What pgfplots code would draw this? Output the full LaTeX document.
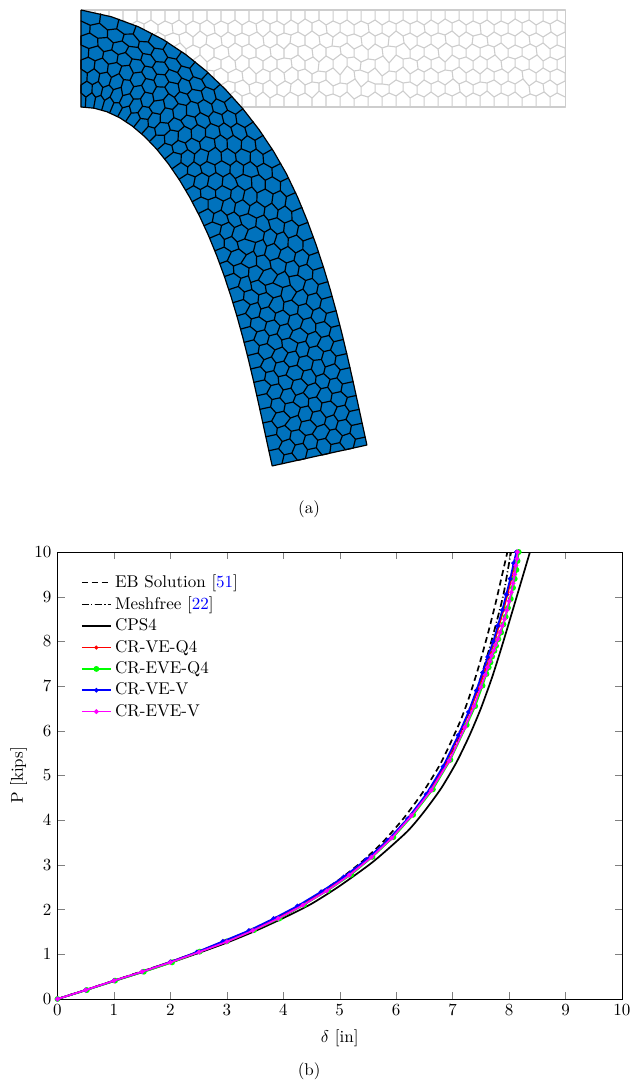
\documentclass[border=0pt]{standalone}
\usepackage{pgfplots}
\usepackage{pgfplotstable}
\pgfplotsset{compat=1.18}
\definecolor{meshblue}{HTML}{0072BD}
\definecolor{meshgray}{HTML}{CDCDCD}
\definecolor{pred}{HTML}{FF0000}
\definecolor{pgreen}{HTML}{00FF00}
\definecolor{pblue}{HTML}{0000FF}
\definecolor{pmag}{HTML}{FF00FF}
\tikzset{declare function={
 bxc(\s)=81+\s*(501+\s*(-337.7+\s*(18.4+\s*56.8)));
 byc(\s)=58.5+\s*\s*(1026.7+\s*(-954.4+\s*324.7));
 bdx(\s)=501+\s*(-675.4+\s*(55.2+\s*227.2));
 bdy(\s)=\s*(2053.4+\s*(-2863.2+\s*1298.8));
 bsp(\s)=sqrt(bdx(\s)*bdx(\s)+bdy(\s)*bdy(\s));
 boff(\s,\d)=\d+max(0,-\d)*8.66*\s*max(0,0.5-\s)*max(0,0.5-\s);
 bendx(\a,\b)=bxc((\a-81)/484)-boff((\a-81)/484,\b-58.5)*bdy((\a-81)/484)/bsp((\a-81)/484);
 bendy(\a,\b)=byc((\a-81)/484)+boff((\a-81)/484,\b-58.5)*bdx((\a-81)/484)/bsp((\a-81)/484);
}}
% outline of the beam, pixel positions of the straight beam
\pgfplotstableread[header=false]{
81 10
103 10
125 10
147 10
169 10
191 10
213 10
235 10
257 10
279 10
301 10
323 10
345 10
367 10
389 10
411 10
433 10
455 10
477 10
499 10
521 10
543 10
565 10
565 107
543 107
521 107
499 107
477 107
455 107
433 107
411 107
389 107
367 107
345 107
323 107
301 107
279 107
257 107
235 107
213 107
191 107
169 107
147 107
125 107
103 107
81 107
81 10
}\outline
% cell walls of the mesh, pixel positions on the straight beam
\pgfplotstableread[header=false]{
81 21
88 24
88 32
88 24
95 20
95 10
95 20
102 25
103 33
102 25
109 21
109 10
109 21
116 24
116 32
116 24
123 20
123 10
123 20
130 25
131 32
130 25
137 21
137 10
137 21
144 24
144 33
144 24
151 20
151 10
151 20
158 25
158 32
158 25
165 21
165 10
165 21
172 24
173 33
172 24
179 20
179 10
179 20
186 25
186 32
186 25
193 21
193 10
193 21
200 24
200 31
200 24
207 20
207 10
207 20
214 25
215 33
214 25
221 21
221 10
221 21
228 24
228 32
228 24
235 20
235 10
235 20
242 25
242 33
242 25
249 21
249 10
249 21
256 24
257 32
256 24
263 20
263 10
263 20
270 24
270 31
270 24
277 21
277 10
277 21
284 25
284 33
284 25
291 20
291 10
291 20
298 24
298 32
298 24
305 19
305 10
305 19
312 23
312 31
312 23
319 20
319 10
319 20
326 25
327 33
326 25
333 21
333 10
333 21
340 24
340 32
340 24
347 20
347 10
347 20
354 25
354 34
354 25
361 21
361 10
361 21
368 24
369 32
368 24
375 20
375 10
375 20
382 25
382 33
382 25
389 21
389 10
389 21
396 24
396 31
396 24
403 20
403 10
403 20
410 24
410 33
410 24
417 21
417 10
417 21
424 25
425 32
424 25
431 20
431 10
431 20
438 24
438 33
438 24
445 19
445 10
445 19
452 23
452 31
452 23
459 20
459 10
459 20
466 25
466 32
466 25
473 21
473 10
473 21
480 24
481 34
480 24
487 20
487 10
487 20
494 25
494 32
494 25
501 21
501 10
501 21
508 24
508 33
508 24
515 19
515 10
515 19
522 23
522 31
522 23
529 20
529 10
529 20
536 25
536 33
536 25
543 21
543 10
543 21
550 24
551 32
550 24
557 20
557 10
557 20
565 24
565 32
557 36
557 45
557 36
551 32
543 37
543 43
543 37
536 33
529 36
530 44
529 36
522 31
515 36
515 45
515 36
508 33
501 36
501 43
501 36
494 32
487 37
488 45
487 37
481 34
473 36
472 44
473 36
466 32
459 37
459 45
459 37
452 31
445 35
446 43
445 35
438 33
431 36
431 44
431 36
425 32
417 37
417 45
417 37
410 33
403 36
404 43
403 36
396 31
389 37
388 46
389 37
382 33
375 36
375 44
375 36
369 32
361 37
362 45
361 37
354 34
347 36
347 43
347 36
340 32
333 37
332 46
333 37
327 33
319 36
320 44
319 36
312 31
305 36
305 45
305 36
298 32
291 35
290 43
291 35
284 33
277 36
277 44
277 36
270 31
263 37
264 45
263 37
257 32
249 36
249 44
249 36
242 33
235 36
235 43
235 36
228 32
221 37
222 45
221 37
215 33
207 36
206 44
207 36
200 31
193 37
193 45
193 37
186 32
179 35
180 43
179 35
173 33
165 36
165 44
165 36
158 32
151 37
151 45
151 37
144 33
137 36
138 44
137 36
131 32
123 35
122 43
123 35
116 32
109 37
109 45
109 37
103 33
95 36
96 44
95 36
88 32
81 36
81 45
88 48
88 57
88 48
96 44
102 49
102 56
102 49
109 45
116 48
117 57
116 48
122 43
130 47
130 55
130 47
138 44
144 48
144 56
144 48
151 45
158 49
159 57
158 49
165 44
172 48
172 56
172 48
180 43
186 49
186 58
186 49
193 45
200 48
200 55
200 48
206 44
214 49
214 57
214 49
222 45
228 48
229 56
228 48
235 43
242 47
242 55
242 47
249 44
256 49
256 57
256 49
264 45
270 48
271 56
270 48
277 44
284 49
284 58
284 49
290 43
298 47
298 55
298 47
305 45
312 49
313 57
312 49
320 44
326 48
326 56
326 48
332 46
340 47
341 54
340 47
347 43
354 49
354 57
354 49
362 45
368 50
368 59
368 50
375 44
382 48
383 56
382 48
388 46
396 47
396 55
396 47
404 43
410 50
410 58
410 50
417 45
424 48
424 56
424 48
431 44
438 49
439 57
438 49
446 43
452 47
452 55
452 47
459 45
466 49
466 57
466 49
472 44
480 48
480 56
480 48
488 45
494 47
495 55
494 47
501 43
508 49
508 57
508 49
515 45
522 48
522 56
522 48
530 44
536 47
537 55
536 47
543 43
550 49
550 57
550 49
557 45
565 48
565 56
557 60
557 69
557 60
550 57
543 61
543 68
543 61
537 55
529 60
529 69
529 60
522 56
515 59
515 67
515 59
508 57
501 61
502 69
501 61
495 55
487 60
487 68
487 60
480 56
473 61
473 69
473 61
466 57
459 59
459 67
459 59
452 55
445 62
445 70
445 62
439 57
431 60
431 68
431 60
424 56
417 61
418 69
417 61
410 58
403 59
403 67
403 59
396 55
389 63
389 71
389 63
383 56
375 60
375 68
375 60
368 59
361 62
360 70
361 62
354 57
347 58
347 66
347 58
341 54
333 60
333 68
333 60
326 56
319 62
318 71
319 62
313 57
305 61
305 69
305 61
298 55
291 59
292 67
291 59
284 58
277 60
277 68
277 60
271 56
263 61
263 69
263 61
256 57
249 59
249 67
249 59
242 55
235 61
236 69
235 61
229 56
221 60
221 68
221 60
214 57
207 62
207 70
207 62
200 55
193 60
193 68
193 60
186 58
179 59
179 67
179 59
172 56
165 61
166 69
165 61
159 57
151 60
151 68
151 60
144 56
137 61
137 69
137 61
130 55
123 59
123 67
123 59
117 57
109 61
110 69
109 61
102 56
95 60
95 68
95 60
88 57
81 60
81 69
88 73
88 81
88 73
95 68
102 72
102 80
102 72
110 69
116 73
116 81
116 73
123 67
130 71
131 79
130 71
137 69
144 73
144 81
144 73
151 68
158 72
158 80
158 72
166 69
172 74
172 82
172 74
179 67
186 72
187 80
186 72
193 68
200 73
200 81
200 73
207 70
214 71
214 79
214 71
221 68
228 73
228 81
228 73
236 69
242 72
243 80
242 72
249 67
256 74
256 82
256 74
263 69
270 72
270 80
270 72
277 68
284 73
285 81
284 73
292 67
298 71
298 79
298 71
305 69
312 74
312 82
312 74
318 71
326 72
326 80
326 72
333 68
340 75
340 83
340 75
347 66
354 71
355 79
354 71
360 70
368 73
368 81
368 73
375 68
382 76
382 84
382 76
389 71
396 72
396 80
396 72
403 67
410 74
410 82
410 74
418 69
424 72
424 80
424 72
431 68
438 73
438 81
438 73
445 70
452 71
453 79
452 71
459 67
466 73
466 81
466 73
473 69
480 74
480 82
480 74
487 68
494 72
494 80
494 72
502 69
508 73
508 81
508 73
515 67
522 71
523 79
522 71
529 69
536 73
536 81
536 73
543 68
550 72
550 80
550 72
557 69
565 73
565 81
557 85
557 93
557 85
550 80
543 84
544 92
543 84
536 81
529 86
530 94
529 86
523 79
515 84
515 92
515 84
508 81
501 85
501 93
501 85
494 80
487 83
487 91
487 83
480 82
473 85
473 93
473 85
466 81
459 84
460 92
459 84
453 79
445 85
445 93
445 85
438 81
431 84
431 92
431 84
424 80
417 86
417 94
417 86
410 82
403 83
403 91
403 83
396 80
389 85
389 93
389 85
382 84
375 84
375 92
375 84
368 81
361 87
361 95
361 87
355 79
347 84
347 92
347 84
340 83
333 86
333 94
333 86
326 80
319 83
319 91
319 83
312 82
305 85
305 93
305 85
298 79
291 84
290 92
291 84
285 81
277 86
277 94
277 86
270 80
263 84
263 92
263 84
256 82
249 85
250 93
249 85
243 80
235 83
235 91
235 83
228 81
221 85
221 93
221 85
214 79
207 84
207 92
207 84
200 81
193 86
193 94
193 86
187 80
179 84
180 92
179 84
172 82
165 85
165 93
165 85
158 80
151 84
151 92
151 84
144 81
137 86
137 94
137 86
131 79
123 84
122 92
123 84
116 81
109 85
109 93
109 85
102 80
95 84
96 92
95 84
88 81
81 85
81 93
88 97
88 107
88 97
96 92
102 96
102 107
102 96
109 93
116 97
116 107
116 97
122 92
130 96
130 107
130 96
137 94
144 97
144 107
144 97
151 92
158 97
158 107
158 97
165 93
172 96
172 107
172 96
180 92
186 97
186 107
186 97
193 94
200 98
200 107
200 98
207 92
214 97
214 107
214 97
221 93
228 96
228 107
228 96
235 91
242 96
242 107
242 96
250 93
256 97
256 107
256 97
263 92
270 98
270 107
270 98
277 94
284 97
284 107
284 97
290 92
298 96
298 107
298 96
305 93
312 98
312 107
312 98
319 91
326 96
326 107
326 96
333 94
340 97
340 107
340 97
347 92
354 99
354 107
354 99
361 95
368 97
368 107
368 97
375 92
382 97
382 107
382 97
389 93
396 96
396 107
396 96
403 91
410 98
410 107
410 98
417 94
424 97
424 107
424 97
431 92
438 97
438 107
438 97
445 93
452 96
452 107
452 96
460 92
466 97
466 107
466 97
473 93
480 96
480 107
480 96
487 91
494 97
494 107
494 97
501 93
508 96
508 107
508 96
515 92
522 98
522 107
522 98
530 94
536 96
536 107
536 96
544 92
550 97
550 107
550 97
557 93
565 97
}\meshwalls
\begin{document}
\begin{tikzpicture}[x=1pt,y=1pt]
\path[use as bounding box] (0,0) rectangle (370.6pt,635.8pt);
\begin{axis}[
  at={(0pt,0pt)},anchor=south west,scale only axis,
  width=370.6pt,height=635.8pt,
  xmin=0,xmax=630,ymin=0,ymax=1081,y dir=reverse,
  hide axis,
]
\addplot[meshgray,line width=0.65pt,line join=round,no markers] table[x index=0,y index=1] {\meshwalls};
\addplot[meshgray,line width=0.65pt,line join=round,no markers] coordinates {(81,10)(565,10)(565,107)(81,107)(81,10)};
\addplot[draw=none,fill=meshblue,no markers] table[x expr={bendx(\thisrowno{0},\thisrowno{1})},y expr={bendy(\thisrowno{0},\thisrowno{1})}] {\outline} --cycle;
\addplot[black,line width=0.7pt,line join=round,line cap=round,no markers] table[x expr={bendx(\thisrowno{0},\thisrowno{1})},y expr={bendy(\thisrowno{0},\thisrowno{1})}] {\meshwalls};
\addplot[black,line width=0.7pt,line join=round,no markers] table[x expr={bendx(\thisrowno{0},\thisrowno{1})},y expr={bendy(\thisrowno{0},\thisrowno{1})}] {\outline};
\end{axis}
\node at (181.8pt,336.5pt) {(a)};
\node at (181.8pt,5.6pt) {(b)};
\begin{axis}[
  at={(33.82pt,48.23pt)},anchor=south west,scale only axis,
  width=332pt,height=262.9pt,
  xmin=0,xmax=10,ymin=0,ymax=10,
  xtick={0,1,...,10},ytick={0,1,...,10},
  xlabel={$\delta$ [in]},ylabel={P [kips]},
  xlabel shift=1.5pt,ylabel shift=-2.5pt,
  clip mode=individual,
  legend cell align=left,
  legend style={draw=none,fill=none,at={(0.032,0.965)},anchor=north west},
]
\addplot[black,line width=1pt,dash pattern=on 3.5pt off 2.3pt,no markers,smooth,tension=.4] coordinates {
(0,0)(.5,.2)(1,.41)(1.5,.62)(2,.83)(2.5,1.06)(3,1.31)(3.5,1.58)(4,1.89)(4.5,2.25)(5,2.68)(5.4,3.08)(5.77,3.52)(6.13,4.04)(6.48,4.64)(6.8,5.3)(7.13,6.2)(7.3,6.78)(7.47,7.47)(7.63,8.2)(7.76,8.85)(7.87,9.45)(7.97,10)};
\addlegendentry{EB Solution [\textcolor{blue}{51}]}
\addplot[black,line width=1pt,dash pattern=on 4pt off 1.5pt on .6pt off 1.5pt,no markers,smooth,tension=.4] coordinates {
(0,0)(1,.41)(2,.83)(3,1.3)(4,1.86)(4.5,2.22)(5,2.66)(5.5,3.14)(6,3.75)(6.5,4.5)(7,5.55)(7.3,6.45)(7.55,7.4)(7.75,8.3)(7.9,9.05)(8.02,9.9)(8.04,10)};
\addlegendentry{Meshfree [\textcolor{blue}{22}]}
\addplot[black,line width=1pt,no markers,smooth,tension=.4] coordinates {
(0,0)(.5,.2)(1,.4)(1.5,.6)(2,.81)(2.5,1.03)(3,1.26)(3.5,1.52)(4,1.81)(4.5,2.13)(5,2.53)(5.6,3.08)(6.19,3.74)(6.5,4.2)(6.8,4.72)(7.07,5.3)(7.3,5.9)(7.5,6.5)(7.7,7.2)(7.87,7.88)(8.1,8.85)(8.37,10)};
\addlegendentry{CPS4}
\addplot[pred,line width=1pt,mark=*,mark size=.6pt] coordinates {
(0,0)(.5,.2)(1,.41)(1.5,.61)(2,.83)(2.48,1.05)(2.95,1.29)(3.41,1.53)(3.86,1.8)(4.29,2.09)(4.71,2.41)(5.11,2.75)(5.5,3.13)(5.88,3.57)(6.23,4.05)(6.57,4.62)(6.87,5.25)(7.14,5.98)(7.32,6.5)(7.46,6.95)(7.56,7.3)(7.65,7.65)(7.73,7.95)(7.82,8.35)(7.9,8.7)(7.97,9.05)(8.04,9.4)(8.09,9.7)(8.13,10)};
\addlegendentry{CR-VE-Q4}
\addplot[pgreen,line width=1pt,mark=*,mark size=1.2pt] coordinates {
(0,0)(.52,.2)(1.02,.41)(1.53,.61)(2.03,.82)(2.52,1.06)(3,1.29)(3.48,1.54)(3.93,1.8)(4.37,2.11)(4.79,2.43)(5.2,2.78)(5.58,3.18)(5.95,3.62)(6.3,4.12)(6.65,4.69)(6.96,5.35)(7.25,6.13)(7.4,6.55)(7.53,7.01)(7.6,7.27)(7.64,7.42)(7.67,7.53)(7.7,7.66)(7.74,7.79)(7.77,7.9)(7.81,8.05)(7.86,8.2)(7.9,8.38)(7.94,8.55)(7.98,8.75)(8.03,8.95)(8.07,9.2)(8.1,9.4)(8.13,9.6)(8.15,9.8)(8.17,10)};
\addlegendentry{CR-EVE-Q4}
\addplot[pblue,line width=1pt,mark=*,mark size=.8pt] coordinates {
(0,0)(.5,.2)(1,.41)(1.5,.61)(2,.83)(2.47,1.05)(2.93,1.29)(3.39,1.53)(3.83,1.8)(4.25,2.08)(4.67,2.4)(5.07,2.73)(5.47,3.12)(5.85,3.55)(6.2,4.03)(6.53,4.58)(6.83,5.2)(7.1,5.9)(7.28,6.42)(7.42,6.9)(7.53,7.3)(7.62,7.65)(7.72,8)(7.8,8.35)(7.88,8.7)(7.95,9.05)(8.02,9.4)(8.08,9.75)(8.13,10)};
\addlegendentry{CR-VE-V}
\addplot[pmag,line width=1pt,mark=*,mark size=.8pt] coordinates {
(0,0)(.5,.2)(1,.41)(1.5,.61)(2,.82)(2.51,1.05)(3,1.28)(3.46,1.53)(3.91,1.8)(4.35,2.1)(4.77,2.42)(5.17,2.77)(5.56,3.17)(5.92,3.6)(6.27,4.1)(6.62,4.67)(6.94,5.33)(7.22,6.08)(7.38,6.55)(7.5,6.98)(7.58,7.25)(7.62,7.42)(7.66,7.55)(7.69,7.68)(7.73,7.8)(7.76,7.92)(7.8,8.05)(7.84,8.2)(7.88,8.35)(7.92,8.5)(7.96,8.7)(8,8.9)(8.04,9.1)(8.07,9.3)(8.1,9.5)(8.12,9.7)(8.14,9.85)(8.15,10)};
\addlegendentry{CR-EVE-V}
\end{axis}
\end{tikzpicture}
\end{document}
